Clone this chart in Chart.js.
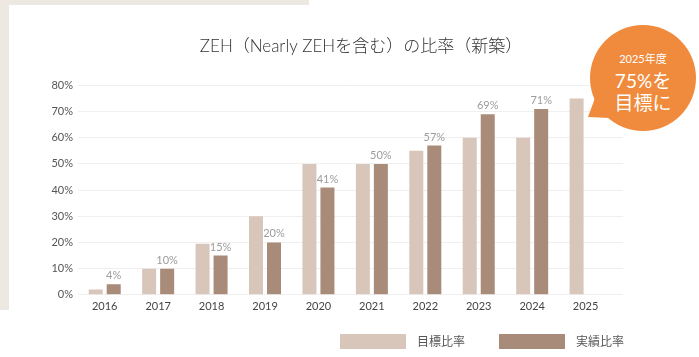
<!DOCTYPE html>
<html><head><meta charset="utf-8">
<script src="https://cdn.jsdelivr.net/npm/chart.js@4"></script>
<style>
html,body{margin:0;padding:0;background:#fff;}
body{width:699px;height:357px;position:relative;overflow:hidden;font-family:Lato,'Noto Sans CJK JP',sans-serif;}
#frame{position:absolute;left:0;top:0;width:309px;height:310px;background:#EEE8E3;}
#card{position:absolute;left:9px;top:5px;right:0;bottom:0;background:#fff;}
#wrap{position:absolute;left:0;top:0;width:699px;height:357px;}
#bubble{position:absolute;left:590px;top:25px;width:106px;height:106px;border-radius:50%;background:#F08A3C;color:#fff;text-align:center;}
#tail{position:absolute;left:584px;top:92px;width:32px;height:32px;background:#F08A3C;clip-path:polygon(4px 25px,11px 6px,26px 26px);}
#bubble .l1{padding-top:27px;font-size:11px;line-height:14px;}
#bubble .l2{margin-top:4px;font-size:19px;line-height:22px;}
#bubble .l3{font-size:19px;line-height:22px;}
#legend{position:absolute;left:340px;top:334px;display:flex;list-style:none;margin:0;padding:0;}
#legend li{display:flex;align-items:center;width:159px;height:15px;}
#legend .box{width:66px;height:15px;}
#legend .txt{margin-left:11px;font-size:12px;color:#555;line-height:15px;white-space:nowrap;}
</style></head>
<body>
<div id="frame"></div>
<div id="card"></div>
<div id="wrap"><canvas id="c" width="699" height="357"></canvas></div>
<div id="tail"></div>
<div id="bubble"><div class="l1">2025年度</div><div class="l2">75%を</div><div class="l3">目標に</div></div>
<ul id="legend"></ul>
<script>
const years = [2016, 2017, 2018, 2019, 2020, 2021, 2022, 2023, 2024, 2025];
const targetRates = [2, 10, 19.5, 30, 50, 50, 55, 60, 60, 75];
const actualRates = [4, 10, 15, 20, 41, 50, 57, 69, 71, null];
const yTicks = [0, 10, 20, 30, 40, 50, 60, 70, 80];
const seriesNames = ['目標比率', '実績比率'];
const seriesColors = ['#D9C6BB', '#A98B79'];
const titleText = 'ZEH（Nearly ZEHを含む）の比率（新築）';

const FONT = "Lato, 'Noto Sans CJK JP', sans-serif";
Chart.defaults.font.family = FONT;

const toPoints = arr => years.map((yr, i) => ({ x: yr, y: arr[i] }));

const valueLabels = {
  id: 'valueLabels',
  afterDatasetsDraw(chart) {
    const meta = chart.getDatasetMeta(1);
    const ctx = chart.ctx;
    ctx.save();
    ctx.font = '11px ' + FONT;
    ctx.fillStyle = '#9C9C9C';
    ctx.textAlign = 'center';
    ctx.textBaseline = 'bottom';
    meta.data.forEach((el, i) => {
      const v = actualRates[i];
      if (v == null) return;
      ctx.fillText(v + '%', el.x, el.y - 3);
    });
    ctx.restore();
  }
};

const htmlLegend = {
  id: 'htmlLegend',
  afterUpdate(chart) {
    const ul = document.getElementById('legend');
    ul.innerHTML = '';
    const items = chart.options.plugins.legend.labels.generateLabels(chart);
    items.forEach(item => {
      const li = document.createElement('li');
      const box = document.createElement('span');
      box.className = 'box';
      box.style.background = item.fillStyle;
      const txt = document.createElement('span');
      txt.className = 'txt';
      txt.textContent = item.text;
      li.appendChild(box); li.appendChild(txt);
      ul.appendChild(li);
    });
  }
};

new Chart(document.getElementById('c'), {
  type: 'bar',
  data: {
    datasets: [
      { label: seriesNames[0], data: toPoints(targetRates), backgroundColor: seriesColors[0], categoryPercentage: 0.674, barPercentage: 0.778 },
      { label: seriesNames[1], data: toPoints(actualRates), backgroundColor: seriesColors[1], categoryPercentage: 0.674, barPercentage: 0.778 }
    ]
  },
  options: {
    responsive: false,
    animation: false,
    layout: { padding: { left: 23, right: 0, top: 0, bottom: 39 } },
    scales: {
      x: {
        type: 'linear', min: 2015.5, max: 2025.7, offset: false,
        grid: { display: false, offset: false, drawTicks: false }, border: { display: false },
        afterBuildTicks: s => { s.ticks = years.map(v => ({ value: v })); },
        ticks: { callback: v => String(v), font: { size: 11 }, color: '#444', padding: 5, autoSkip: false, maxRotation: 0 }
      },
      y: {
        min: 0, max: 80,
        afterBuildTicks: s => { s.ticks = yTicks.map(v => ({ value: v })); },
        grid: { color: '#EFEFEF', drawTicks: false }, border: { display: false },
        ticks: { callback: v => v + '%', color: '#555', font: { size: 11 }, padding: 5 },
        afterFit: s => { s.width = 55; }
      },
      pad: {
        position: 'right', display: true,
        grid: { display: false }, border: { display: false }, ticks: { display: false },
        afterFit: s => { s.width = 76; }
      }
    },
    plugins: {
      legend: { display: false },
      tooltip: { enabled: false },
      title: { display: true, text: titleText, color: '#333', font: { size: 17, weight: '300' }, padding: { top: 36, bottom: 29 } }
    }
  },
  plugins: [valueLabels, htmlLegend]
});
</script>
</body></html>
